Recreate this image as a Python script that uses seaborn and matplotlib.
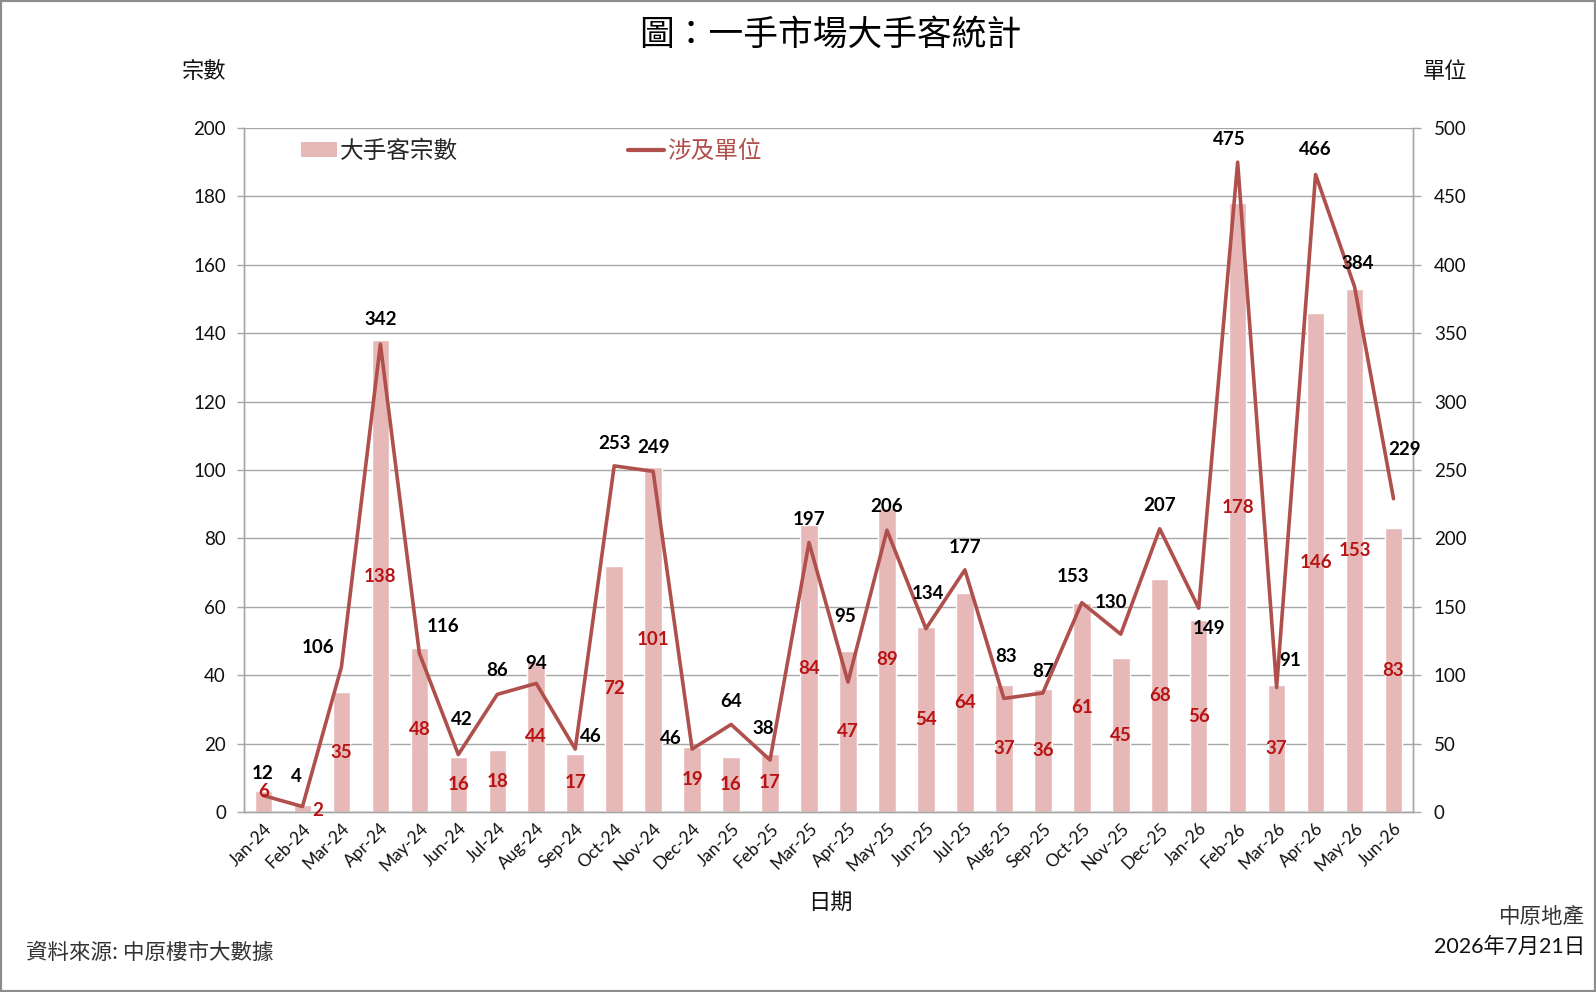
import numpy as np
import pandas as pd
import matplotlib
matplotlib.use("Agg")
import matplotlib.pyplot as plt
import seaborn as sns
from matplotlib.patches import Patch, Rectangle
from matplotlib.lines import Line2D

# ---- data ----
months = ['Jan-24', 'Feb-24', 'Mar-24', 'Apr-24', 'May-24', 'Jun-24', 'Jul-24', 'Aug-24',
          'Sep-24', 'Oct-24', 'Nov-24', 'Dec-24', 'Jan-25', 'Feb-25', 'Mar-25', 'Apr-25',
          'May-25', 'Jun-25', 'Jul-25', 'Aug-25', 'Sep-25', 'Oct-25', 'Nov-25', 'Dec-25',
          'Jan-26', 'Feb-26', 'Mar-26', 'Apr-26', 'May-26', 'Jun-26']
deals = [6, 2, 35, 138, 48, 16, 18, 44, 17, 72, 101, 19, 16, 17, 84, 47, 89, 54, 64, 37,
         36, 61, 45, 68, 56, 178, 37, 146, 153, 83]
units = [12, 4, 106, 342, 116, 42, 86, 94, 46, 253, 249, 46, 64, 38, 197, 95, 206, 134, 177,
         83, 87, 153, 130, 207, 149, 475, 91, 466, 384, 229]

title = '圖：一手市場大手客統計'
bar_name = '大手客宗數'
line_name = '涉及單位'
left_title = '宗數'
right_title = '單位'
x_title = '日期'
source = '資料來源: 中原樓市大數據'
brand = '中原地產'
date_note = '2026年7月21日'

# label placement offsets (pixels) - styling only
line_lbl_off = [(-1, 24), (-6, 31), (-23, 21), (0, 26), (23, 28), (3, 36), (0, 25), (0, 21),
                (15, 14), (0, 24), (0, 25), (-21, 12), (0, 24), (-7, 33), (0, 25), (-3, 66),
                (0, 25), (2, 36), (0, 24), (2, 43), (0, 23), (-9, 28), (-10, 33), (0, 25),
                (10, -18), (-8, 24), (13, 28), (0, 26), (3, 25), (11, 50)]
bar_lbl_off = {0: (0, 10), 1: (15, -2)}

# ---- style ----
BAR_C = '#E6B9B8'
LINE_C = '#B0504C'
BAR_LBL_C = '#B81414'
GRID_C = '#A6A6A6'
NUM_FONT = ['Lato', 'Noto Sans CJK TC', 'DejaVu Sans']
CJK_FONT = ['Noto Sans CJK TC', 'DejaVu Sans']

sns.set_theme(style='white')
plt.rcParams['font.family'] = NUM_FONT

W, H = 1596, 992
fig = plt.figure(figsize=(W / 100, H / 100), dpi=100)
L, R, T, B = 244, 1413, 128, 812
ax1 = fig.add_axes([L / W, 1 - B / H, (R - L) / W, (B - T) / H])

df = pd.DataFrame({'month': months, 'deals': deals, 'units': units})
sns.barplot(data=df, x='month', y='deals', color=BAR_C, saturation=1, width=0.45,
            ax=ax1, zorder=2)
ax1.set_ylim(0, 200)
ax1.set_xlim(-0.5, len(months) - 0.5)
ax1.set_yticks(np.arange(0, 201, 20))
ax1.yaxis.grid(True, color=GRID_C, lw=1, zorder=0)
ax1.set_axisbelow(True)
ax1.set_xlabel('')
ax1.set_ylabel('')

ax2 = ax1.twinx()
sns.lineplot(x=np.arange(len(months)), y=units, color=LINE_C, lw=2.6, ax=ax2, zorder=3)
ax2.set_ylim(0, 500)
ax2.set_yticks(np.arange(0, 501, 50))
ax2.grid(False)
ax2.set_xlim(-0.5, len(months) - 0.5)

for ax in (ax1, ax2):
    ax.spines['top'].set_visible(False)
    for s in ('left', 'right', 'bottom'):
        ax.spines[s].set_color(GRID_C)
        ax.spines[s].set_linewidth(1)

ax1.tick_params(axis='y', left=True, length=5, width=1, color=GRID_C, pad=8,
                labelsize=13.5, labelcolor='#111111')
ax2.tick_params(axis='y', right=True, length=6, width=1, color=GRID_C, pad=9,
                labelsize=13.5, labelcolor='#111111')
ax1.tick_params(axis='x', length=0, pad=6)
ax1.set_xticks(np.arange(len(months)))
ax1.set_xticklabels(months, rotation=45, ha='right', rotation_mode='anchor',
                    fontsize=12.5, color='#111111')

# bar value labels (centered in bars)
for i, v in enumerate(deals):
    dx, dy = bar_lbl_off.get(i, (0, 0))
    ax2.annotate(str(v), xy=(i, v / 2), xycoords=ax1.transData,
                 xytext=(dx, dy), textcoords='offset pixels',
                 ha='center', va='center', fontsize=13.5, fontweight='bold',
                 color=BAR_LBL_C, zorder=5)

# line value labels
for i, v in enumerate(units):
    dx, dy = line_lbl_off[i]
    ax2.annotate(str(v), xy=(i, v), xytext=(dx * 1.02, dy * 1.02 - 2),
                 textcoords='offset pixels', ha='center', va='center',
                 fontsize=13.5, fontweight='bold', color='black', zorder=5)

# legend
handles = [Patch(facecolor=BAR_C, edgecolor='none'),
           Line2D([0], [0], color=LINE_C, lw=3)]
leg = ax2.legend(handles, [bar_name, line_name], loc='center left',
                 bbox_to_anchor=(0.049, 0.966), ncol=2, frameon=False,
                 borderpad=0, borderaxespad=0, handlelength=1.5, handleheight=0.6,
                 handletextpad=0.15, columnspacing=7.2,
                 prop={'family': CJK_FONT, 'size': 17})
leg.get_texts()[1].set_color(LINE_C)

# titles and notes
fig.text(830 / W, 1 - 35 / H, title, ha='center', va='center', fontsize=25,
         family=CJK_FONT, color='black')
fig.text(204 / W, 1 - 71 / H, left_title, ha='center', va='center', fontsize=16,
         family=CJK_FONT, color='#111111')
fig.text(1445 / W, 1 - 71 / H, right_title, ha='center', va='center', fontsize=16,
         family=CJK_FONT, color='#111111')
fig.text(830 / W, 1 - 902 / H, x_title, ha='center', va='center', fontsize=16,
         family=CJK_FONT, color='#111111')
fig.text(26 / W, 1 - 953 / H, source, ha='left', va='center', fontsize=15.5,
         family=CJK_FONT, color='#333333')
fig.text(1585 / W, 1 - 917 / H, brand, ha='right', va='center', fontsize=15.5,
         family=CJK_FONT, color='#333333')
fig.text(1585 / W, 1 - 947 / H, date_note, ha='right', va='center', fontsize=15.5,
         family=NUM_FONT, color='#111111')

fig.patches.append(Rectangle((0, 0), 1, 1, transform=fig.transFigure, fill=False,
                             edgecolor='#8C8C8C', lw=3, zorder=10))

fig.savefig('out.png', dpi=100)
